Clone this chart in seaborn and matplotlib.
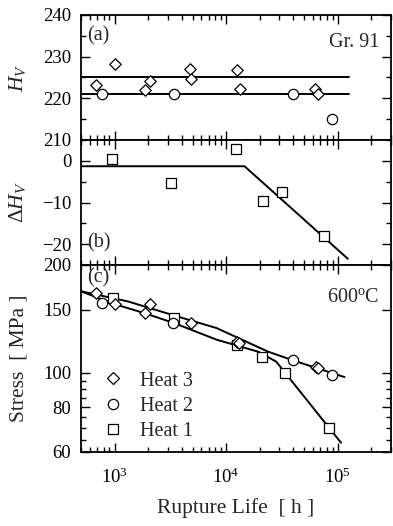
import matplotlib
matplotlib.use("Agg")
import matplotlib.pyplot as plt
import matplotlib.ticker as mticker
from matplotlib.lines import Line2D
import seaborn as sns

# ---- data ----
# (a) hardness
hv_heat3_life = [687, 1015, 1874, 2075, 4710, 4810, 12480, 13180, 62100, 66400]
hv_heat3 = [223.2, 228.2, 222.0, 224.2, 227.0, 224.7, 226.7, 222.2, 222.2, 221.0]
hv_heat2_life = [772, 3400, 40100, 88900]
hv_heat2 = [221.0, 221.0, 221.0, 215.1]
hv_line_life = [500, 125000]
hv_line_heat3 = [225.1, 225.1]
hv_line_heat2 = [221.0, 221.0]

# (b) hardness change, heat 1
dhv_heat1_life = [954, 3210, 12130, 21550, 31760, 75100]
dhv_heat1 = [0.5, -5.2, 2.8, -9.7, -7.5, -18.1]
dhv_fit_life = [500, 14600, 123000]
dhv_fit = [-1.3, -1.3, -23.5]

# (c) creep rupture
heat3_life = [687, 1000, 1874, 2090, 4860, 12480, 13100, 64000, 67000]
heat3_stress = [166.7, 155.3, 146.6, 155.5, 138.0, 122.0, 121.0, 103.9, 103.0]
heat2_life = [772, 3350, 39600, 88900]
heat2_stress = [156.9, 137.4, 108.4, 98.3]
heat1_life = [966, 3420, 12600, 20800, 33600, 83000]
heat1_stress = [161.5, 142.0, 119.5, 110.8, 100.0, 69.9]

upper_fit_life = [500, 1305, 3631, 8233, 23870, 39810, 114800]
upper_fit_stress = [168.9, 158.3, 143.7, 133.2, 114.4, 108.2, 97.2]
lower_fit_life = [500, 927, 1836, 3396, 8233, 19450, 28120, 106900]
lower_fit_stress = [168.9, 156.6, 146.8, 137.7, 123.6, 114.4, 107.3, 63.7]

# ---- style ----
sns.set_style("ticks")
plt.rcParams['font.family'] = ['Liberation Serif', 'DejaVu Serif']
plt.rcParams['mathtext.fontset'] = 'custom'
plt.rcParams['mathtext.rm'] = 'Liberation Serif'
plt.rcParams['mathtext.it'] = 'Liberation Serif:italic'
plt.rcParams['mathtext.bf'] = 'Liberation Serif:bold'
plt.rcParams['axes.linewidth'] = 1.3
plt.rcParams['axes.edgecolor'] = 'black'

TICK_FS = 13.5
LABEL_FS = 15.5
TEXT_FS = 14.5

fig = plt.figure(figsize=(3.93, 5.26), dpi=100)
W = 310 / 393
ax_a = fig.add_axes([81 / 393, 1 - 140 / 526, W, 125 / 526])
ax_b = fig.add_axes([81 / 393, 1 - 265 / 526, W, 125 / 526])
ax_c = fig.add_axes([81 / 393, 1 - 452 / 526, W, 187 / 526])

mk = dict(facecolor='white', edgecolor='black', linewidth=0.9, zorder=3, legend=False)
ln = dict(color='black', linewidth=1.4, sort=False, estimator=None, legend=False, zorder=2)

# (a)
sns.lineplot(x=hv_line_life, y=hv_line_heat3, ax=ax_a, **ln)
sns.lineplot(x=hv_line_life, y=hv_line_heat2, ax=ax_a, **ln)
sns.scatterplot(x=hv_heat3_life, y=hv_heat3, marker='D', s=34, ax=ax_a, **mk)
sns.scatterplot(x=hv_heat2_life, y=hv_heat2, marker='o', s=55, ax=ax_a, **mk)

# (b)
sns.lineplot(x=dhv_fit_life, y=dhv_fit, ax=ax_b, **ln)
sns.scatterplot(x=dhv_heat1_life, y=dhv_heat1, marker='s', s=62, ax=ax_b, **mk)

# (c)
sns.lineplot(x=upper_fit_life, y=upper_fit_stress, ax=ax_c, **ln)
sns.lineplot(x=lower_fit_life, y=lower_fit_stress, ax=ax_c, **ln)
sns.scatterplot(x=heat1_life, y=heat1_stress, marker='s', s=62, ax=ax_c, **mk)
sns.scatterplot(x=heat2_life, y=heat2_stress, marker='o', s=55, ax=ax_c, **mk)
sns.scatterplot(x=heat3_life, y=heat3_stress, marker='D', s=34, ax=ax_c, **mk)

for ax in (ax_a, ax_b, ax_c):
    ax.set_xscale('log')
    ax.set_xlim(500, 3e5)
    ax.xaxis.set_major_locator(mticker.LogLocator(base=10, numticks=10))
    ax.xaxis.set_minor_locator(mticker.LogLocator(base=10, subs=range(2, 10), numticks=20))
    ax.xaxis.set_minor_formatter(mticker.NullFormatter())
    ax.tick_params(which='both', direction='in', top=True, right=True,
                   width=1.0, labelsize=TICK_FS, colors='black')
    ax.tick_params(which='major', length=6.5)
    ax.tick_params(which='minor', length=3.6)
    ax.tick_params(axis='y', which='major', pad=7)
    ax.tick_params(axis='x', which='major', pad=11)
    for s in ax.spines.values():
        s.set_visible(True)

for ax in (ax_a, ax_b):
    ax.tick_params(axis='x', labelbottom=False)

ax_a.set_ylim(210, 240)
ax_a.yaxis.set_major_locator(mticker.MultipleLocator(10))
ax_a.yaxis.set_minor_locator(mticker.MultipleLocator(5))

ax_b.set_ylim(-25, 5)
ax_b.yaxis.set_major_locator(mticker.FixedLocator([-20, -10, 0]))
ax_b.yaxis.set_minor_locator(mticker.MultipleLocator(5))

ax_c.set_yscale('log')
ax_c.set_ylim(60, 200)
ax_c.yaxis.set_major_locator(mticker.FixedLocator([60, 80, 100, 150, 200]))
ax_c.yaxis.set_major_formatter(mticker.FixedFormatter(['60', '80', '100', '150', '200']))
ax_c.yaxis.set_minor_locator(mticker.FixedLocator([65, 70, 75, 85, 90, 95]))
ax_c.yaxis.set_minor_formatter(mticker.NullFormatter())

ax_a.set_ylabel(r'$H_V$', fontsize=LABEL_FS)
ax_b.set_ylabel(r'$\mathit{\Delta H}_V$', fontsize=LABEL_FS)
ax_c.set_ylabel('Stress  [ MPa ]', fontsize=LABEL_FS)
ax_c.set_xlabel('Rupture Life  [ h ]', fontsize=LABEL_FS)
for ax in (ax_a, ax_b, ax_c):
    ax.yaxis.set_label_coords(-0.17, 0.5)
ax_c.xaxis.labelpad = 8

ax_a.text(0.02, 0.836, '(a)', transform=ax_a.transAxes, fontsize=TEXT_FS, va='center')
ax_a.text(0.962, 0.78, 'Gr. 91', transform=ax_a.transAxes, fontsize=TEXT_FS,
          va='center', ha='right')
ax_b.text(0.02, 0.176, '(b)', transform=ax_b.transAxes, fontsize=TEXT_FS, va='center')
ax_c.text(0.02, 0.93, '(c)', transform=ax_c.transAxes, fontsize=TEXT_FS, va='center')
ax_c.text(0.962, 0.826, r'600$^{\mathrm{o}}$C', transform=ax_c.transAxes,
          fontsize=TEXT_FS, va='center', ha='right')

handles = [
    Line2D([], [], marker='D', ls='none', mfc='white', mec='black', ms=5.8, mew=0.9),
    Line2D([], [], marker='o', ls='none', mfc='white', mec='black', ms=7.4, mew=0.9),
    Line2D([], [], marker='s', ls='none', mfc='white', mec='black', ms=7.9, mew=0.9),
]
ax_c.legend(handles, ['Heat 3', 'Heat 2', 'Heat 1'], loc='lower left',
            bbox_to_anchor=(0.072, 0.06), frameon=False, fontsize=TEXT_FS,
            handlelength=1.0, handletextpad=0.8, labelspacing=0.3,
            borderaxespad=0, borderpad=0)

fig.savefig('out.png', dpi=100, facecolor='white')
